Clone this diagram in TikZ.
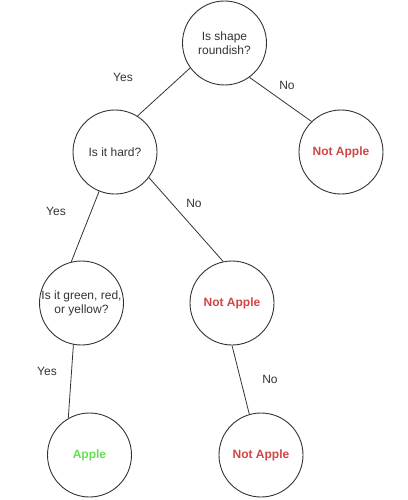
\documentclass[tikz,border=0pt]{standalone}
\usepackage{fontspec}
\setmainfont{Liberation Sans}
\definecolor{txt}{HTML}{333333}
\definecolor{nored}{HTML}{D04545}
\definecolor{yesgreen}{HTML}{66DD55}
\begin{document}
\begin{tikzpicture}[x=1pt,y=-1pt,
  q/.style={circle,draw=txt,line width=0.9pt,minimum size=84pt,inner sep=0pt,align=center,text=txt,font=\fontsize{12}{14}\selectfont},
  negnode/.style={q,text=nored,font=\fontsize{12}{14}\selectfont\bfseries},
  posnode/.style={q,text=yesgreen,font=\fontsize{12}{14}\selectfont\bfseries},
  edge/.style={draw=txt,line width=0.8pt},
  lab/.style={text=txt,font=\fontsize{12}{14}\selectfont,inner sep=0pt}]
\useasboundingbox (0,0) rectangle (407,500);
\node[q] (root) at (224.5,43) {Is shape\\roundish?};
\node[q] (hard) at (115,152) {Is it hard?};
\node[negnode] (na1) at (341,152) {Not Apple};
\node[q] (color) at (81.5,303) {Is it green, red,\\or yellow?};
\node[negnode] (na2) at (232,303) {Not Apple};
\node[posnode] (apple) at (89.5,455) {Apple};
\node[negnode] (na3) at (261,455) {Not Apple};
\draw[edge] (root.216) -- (hard.58);
\draw[edge] (root.306) -- (na1.134);
\draw[edge] (hard.248) -- (color.104);
\draw[edge] (hard.323) -- (na2.102);
\draw[edge] (color.259) -- (apple.120);
\draw[edge] (na2.270) -- (na3.106);
\node[lab] (l1) at (123,77) {Yes};
\node[lab] (l2) at (287,85) {No};
\node[lab] (l3) at (56,211) {Yes};
\node[lab] (l4) at (194,203) {No};
\node[lab] (l5) at (47,371) {Yes};
\node[lab] (l6) at (270,379) {No};
\end{tikzpicture}
\end{document}
